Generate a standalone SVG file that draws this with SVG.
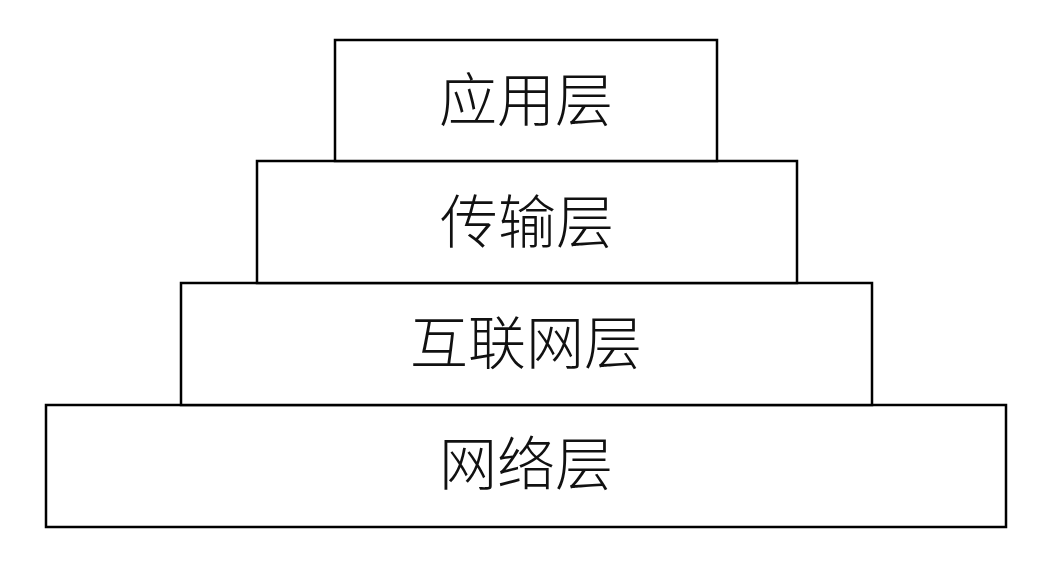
<svg xmlns="http://www.w3.org/2000/svg" width="1052" height="561" viewBox="0 0 1052 561">
<style>
rect{fill:#fff;stroke:#000;stroke-width:2.5}
text{font-family:"Noto Sans CJK SC","Liberation Serif",sans-serif;font-size:58px;font-weight:300;text-anchor:middle;dominant-baseline:central;fill:#111}
</style>
<rect width="1052" height="561" style="stroke:none"/>
<g id="n4"><rect x="46" y="405" width="960" height="122"/><text x="526" y="460">网络层</text></g>
<g id="n3"><rect x="181" y="283" width="691" height="122"/><text x="526" y="339">互联网层</text></g>
<g id="n2"><rect x="257" y="161" width="540" height="122"/><text x="527" y="218">传输层</text></g>
<g id="n1"><rect x="335" y="40" width="382" height="121"/><text x="526" y="96">应用层</text></g>
<g id="connectors"></g>
</svg>
